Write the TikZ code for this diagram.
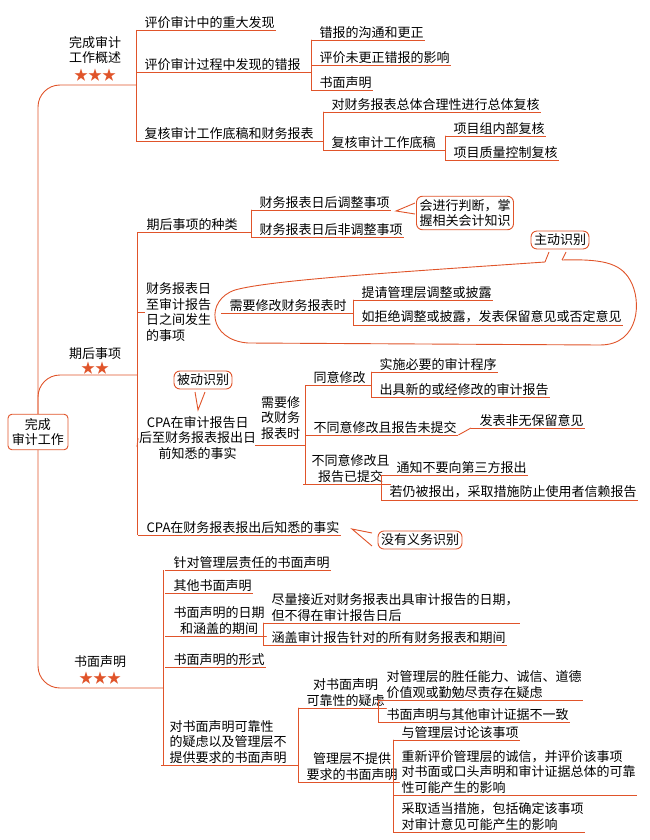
\documentclass[tikz,border=0pt]{standalone}
\usepackage{fontspec}
\setmainfont{Noto Sans CJK SC}
\usetikzlibrary{positioning,calc}
\definecolor{mred}{HTML}{E0542A}
\tikzset{
  rl/.style={draw=mred,line width=0.9pt},
  ul/.style={anchor=south west,inner sep=1.5pt,align=left,
    append after command={([xshift=-7pt]\tikzlastnode.south west) edge[rl] (\tikzlastnode.south east)}},
  txt/.style={inner sep=1pt,align=center},
  callout/.style={draw=mred,line width=0.9pt,rounded corners=6pt,fill=white,inner sep=3pt,align=left},
  stars/.style={text=mred,font=\fontsize{14}{14}\selectfont,inner sep=0pt}
}
\newcommand\brk[3]{%
  \path ([xshift=-7pt]#2.south west) coordinate (bt) ([xshift=-7pt]#3.south west) coordinate (bb);
  \draw[rl,line cap=round] (bt) -- (bb) (#1.south east) -- (#1.south east -| bt);}
\begin{document}
\begin{tikzpicture}[x=1pt,y=-1pt,font=\fontsize{13}{15.5}\selectfont]
\useasboundingbox (0,0) rectangle (650,840);
% root and trunk
\node[draw=mred,line width=0.9pt,rounded corners=4pt,txt,inner sep=4pt] (root) at (38,432) {完成\\审计工作};
\draw[rl,rounded corners=22pt] (root.north) |- (136,85);
\draw[rl,rounded corners=22pt] (root.north) |- (137,375);
\draw[rl,rounded corners=22pt] (root.south) |- (163,688);
\node[txt] (over) at (95,50) {完成审计\\工作概述};
\node[stars] (overs) at (95,75) {★★★};
\node[txt] (post) at (95,354) {期后事项};
\node[stars] (posts) at (95,368) {★★};
\node[txt] (wr) at (100,662) {书面声明};
\node[stars] (wrs) at (100,678) {★★★};

% overview
\node[ul] (find) at (143,30) {评价审计中的重大发现};
\node[ul] (mis) at (143,72) {评价审计过程中发现的错报};
\node[ul] (rev) at (143,141) {复核审计工作底稿和财务报表};
\draw[rl] (136,30) -- (136,141);
\node[ul] (mis1) at (318,40) {错报的沟通和更正};
\node[ul] (mis2) at (318,65) {评价未更正错报的影响};
\node[ul] (mis3) at (318,90) {书面声明};
\brk{mis}{mis1}{mis3}
\node[ul] (rev1) at (330,112) {对财务报表总体合理性进行总体复核};
\node[ul] (rev2) at (330,150) {复核审计工作底稿};
\brk{rev}{rev1}{rev2}
\node[ul] (rev21) at (452,136) {项目组内部复核};
\node[ul] (rev22) at (452,160) {项目质量控制复核};
\brk{rev2}{rev21}{rev22}

% subsequent events
\draw[rl] (137,232) -- (137,535);
\node[ul] (kind) at (145,232) {期后事项的种类};
\node[ul] (kind1) at (258,210) {财务报表日后调整事项};
\node[ul] (kind2) at (258,237) {财务报表日后非调整事项};
\brk{kind}{kind1}{kind2}
\node[callout] (judge) at (465,213) {会进行判断，掌\\握相关会计知识};
\draw[rl] (415,203) -- (396,211) -- (415,214);

\node[anchor=west,inner sep=1pt,align=left] (betw) at (145,312) {财务报表日\\至审计报告\\日之间发生\\的事项};
\draw[rl] (137,312) -- (betw.west);
\node[ul] (need1) at (228,313) {需要修改财务报表时};
\node[ul] (need11) at (360,300) {提请管理层调整或披露};
\node[ul] (need12) at (360,325) {如拒绝调整或披露，发表保留意见或否定意见};
\brk{need1}{need11}{need12}
\draw[rl] (545,262) .. controls (400,272) and (270,280) .. (235,290)
  .. controls (205,300) and (208,340) .. (248,343) -- (600,345)
  .. controls (640,345) and (642,300) .. (630,280)
  .. controls (620,262) and (600,259) .. (562,260);
\node[callout] (act) at (560,240) {主动识别};
\draw[rl] (549,252) -- (545,262) (562,260) -- (566,252);

\node[txt,anchor=west] (know) at (138,438) {CPA在审计报告日\\后至财务报表报出日\\前知悉的事实};
\draw[rl] (137,447) -- (know.west);
\node[callout] (pass) at (203,380) {被动识别};
\draw[rl] (195,392) -- (198,410) -- (205,392);
\node[txt,anchor=west] (need2) at (260,418) {需要修\\改财务\\报表时};
\draw[rl] (255,445) -- (305,445);
\draw[rl] (305,385) -- (305,484);
\node[ul] (agr) at (312,385) {同意修改};
\node[ul] (agr1) at (378,372) {实施必要的审计程序};
\node[ul] (agr2) at (378,397) {出具新的或经修改的审计报告};
\brk{agr}{agr1}{agr2}
\node[ul] (dis) at (312,435) {不同意修改且报告未提交};
\node[ul] (dis1) at (478,428) {发表非无保留意见};
\draw[rl] (dis.south east) -- ([xshift=-7pt]dis1.south west);
\node[ul,align=center] (sub) at (310,484) {不同意修改且\\报告已提交};
\node[ul] (sub1) at (395,475) {通知不要向第三方报出};
\node[ul] (sub2) at (388,500) {若仍被报出，采取措施防止使用者信赖报告};
\draw[rl] (sub.south east) -- (381,484);
\draw[rl] (388,475) -- (381,475) -- (381,500);
\node[ul] (after) at (145,535) {CPA在财务报表报出后知悉的事实};
\node[callout] (noduty) at (420,540) {没有义务识别};
\draw[rl] (372,533) -- (352,529) -- (372,546);

% written representations
\draw[rl] (163,570) -- (163,765);
\node[ul] (w1) at (172,570) {针对管理层责任的书面声明};
\node[ul] (w2) at (172,593) {其他书面声明};
\node[ul,align=center] (w3) at (172,636) {书面声明的日期\\和涵盖的期间};
\node[ul] (w31) at (270,623) {尽量接近对财务报表出具审计报告的日期，\\但不得在审计报告日后};
\node[ul] (w32) at (270,645) {涵盖审计报告针对的所有财务报表和期间};
\brk{w3}{w31}{w32}
\node[ul] (w4) at (172,667) {书面声明的形式};
\node[ul,align=left] (w5) at (168,765) {对书面声明可靠性\\的疑虑以及管理层不\\提供要求的书面声明};
\node[ul,align=center] (dbt) at (305,708) {对书面声明\\可靠性的疑虑};
\node[ul,align=center] (nop) at (305,782) {管理层不提供\\要求的书面声明};
\brk{w5}{dbt}{nop}
\node[ul] (dbt1) at (385,700) {对管理层的胜任能力、诚信、道德\\价值观或勤勉尽责存在疑虑};
\node[ul] (dbt2) at (385,722) {书面声明与其他审计证据不一致};
\brk{dbt}{dbt1}{dbt2}
\node[ul] (nop1) at (400,740) {与管理层讨论该事项};
\node[ul] (nop2) at (400,795) {重新评价管理层的诚信，并评价该事项\\对书面或口头声明和审计证据总体的可靠\\性可能产生的影响};
\node[ul] (nop3) at (400,832) {采取适当措施，包括确定该事项\\对审计意见可能产生的影响};
\brk{nop}{nop1}{nop3}
\end{tikzpicture}
\end{document}
